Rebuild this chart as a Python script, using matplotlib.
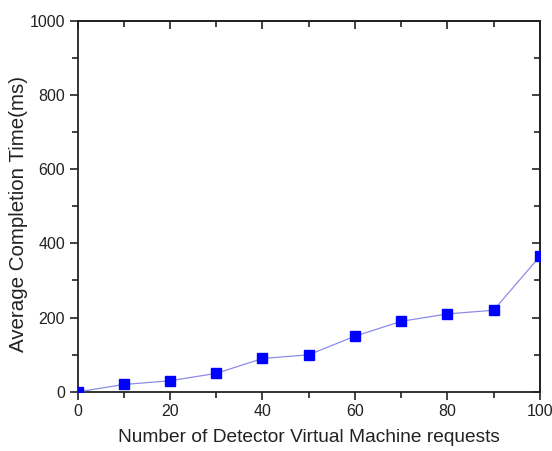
import matplotlib.pyplot as plt
from matplotlib.ticker import MultipleLocator

# Data
requests = [0, 10, 20, 30, 40, 50, 60, 70, 80, 90, 100]
completion_ms = [0, 20, 30, 50, 90, 100, 150, 190, 210, 220, 365]

plt.rcParams['font.family'] = ['Liberation Sans', 'DejaVu Sans']

fig = plt.figure(figsize=(5.52, 4.51), dpi=100)
ax = fig.add_axes([0.1405, 0.131, 0.8375, 0.8235])

ax.plot(requests, completion_ms, color='#8c8ce6', linewidth=0.9,
        marker='s', markersize=6.8, markerfacecolor='#0000ff',
        markeredgecolor='#0000ff', zorder=3)

ax.set_xlim(0, 100)
ax.set_ylim(0, 1000)
ax.xaxis.set_major_locator(MultipleLocator(20))
ax.xaxis.set_minor_locator(MultipleLocator(10))
ax.yaxis.set_major_locator(MultipleLocator(200))
ax.yaxis.set_minor_locator(MultipleLocator(100))

ax.tick_params(which='both', direction='out', top=False, right=False,
               width=1.2, colors='#222222', labelsize=11.5)
ax.tick_params(which='major', length=6, pad=3)
ax.tick_params(which='minor', length=4)

# mirrored inward ticks on top and right axes
ax2 = ax.secondary_xaxis('top')
ax2.xaxis.set_major_locator(MultipleLocator(20))
ax2.xaxis.set_minor_locator(MultipleLocator(10))
ax2.tick_params(which='both', direction='in', labeltop=False, width=1.2, colors='#222222')
ax2.tick_params(which='major', length=6)
ax2.tick_params(which='minor', length=4)
ax3 = ax.secondary_yaxis('right')
ax3.yaxis.set_major_locator(MultipleLocator(200))
ax3.yaxis.set_minor_locator(MultipleLocator(100))
ax3.tick_params(which='both', direction='in', labelright=False, width=1.2, colors='#222222')
ax3.tick_params(which='major', length=6)
ax3.tick_params(which='minor', length=4)

for sp in ax.spines.values():
    sp.set_linewidth(1.3)
    sp.set_color('#222222')
for s in (ax2, ax3):
    for sp in s.spines.values():
        sp.set_linewidth(1.3)
        sp.set_color('#222222')

ax.set_xlabel('Number of Detector Virtual Machine requests', fontsize=13.8,
              color='#222222', labelpad=7)
ax.set_ylabel('Average Completion Time(ms)', fontsize=14.8, color='#222222')
ax.yaxis.set_label_coords(-0.108, 0.48)

fig.savefig('out.png', dpi=100)
